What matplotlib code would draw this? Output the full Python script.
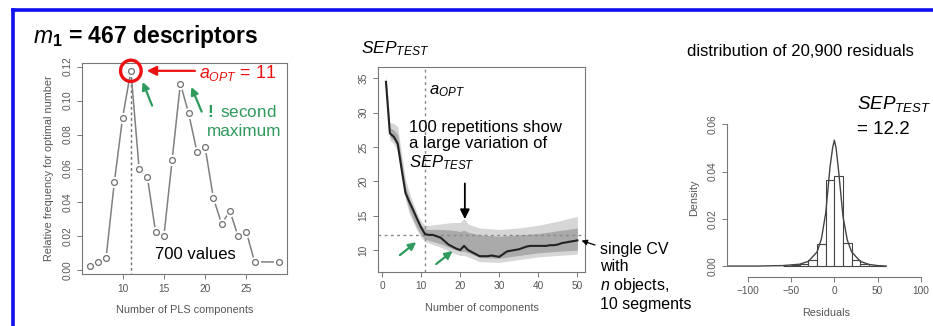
import numpy as np
import matplotlib
matplotlib.use("Agg")
import matplotlib.pyplot as plt
from matplotlib.patches import Ellipse

plt.rcParams['font.family'] = ['Liberation Sans', 'DejaVu Sans']
plt.rcParams['mathtext.fontset'] = 'custom'
plt.rcParams['mathtext.rm'] = 'Liberation Sans'
plt.rcParams['mathtext.it'] = 'Liberation Sans:italic'
plt.rcParams['mathtext.bf'] = 'Liberation Sans:bold'

# panel 1: relative frequency of optimal number of PLS components
n_comp = [6, 7, 8, 9, 10, 11, 12, 13, 14, 15, 16, 17, 18, 19, 20, 21, 22, 23, 24, 25, 26, 29]
rel_freq = [0.0025, 0.005, 0.0075, 0.052, 0.09, 0.1175, 0.06, 0.055, 0.0225, 0.02, 0.065,
            0.11, 0.0925, 0.07, 0.0725, 0.0425, 0.0275, 0.035, 0.02, 0.0225, 0.005, 0.005]
a_opt = 11

# panel 2: SEP_TEST vs number of components
comp = list(range(1, 51))
sep_single = [34.5, 27.0, 26.5, 25.5, 21.8, 18.3, 17.0, 15.8, 14.5, 13.3,
              12.3, 12.2, 12.2, 12.0, 11.8, 11.3, 10.8, 10.5, 10.2, 10.0,
              10.6, 10.0, 9.7, 9.4, 9.1, 9.1, 9.1, 9.2, 9.1, 9.0,
              9.4, 9.8, 9.9, 10.0, 10.1, 10.3, 10.5, 10.6, 10.6, 10.6,
              10.6, 10.6, 10.7, 10.7, 10.8, 11.0, 11.1, 11.2, 11.3, 11.4]
env_x = [1, 2, 3, 4, 5, 6, 7, 8, 9, 10, 11, 12, 15, 18, 20, 21, 22, 25, 30, 35, 40, 45, 50]
outer_hi = [35.6, 28.6, 28.4, 28.0, 24.0, 20.3, 18.3, 16.8, 15.3, 14.2, 13.6, 13.6, 13.8,
            14.0, 14.0, 14.6, 13.8, 13.2, 13.0, 13.2, 13.6, 14.2, 14.9]
outer_lo = [34.0, 26.0, 25.5, 24.3, 20.8, 17.3, 15.3, 14.0, 12.8, 11.8, 11.2, 11.0, 10.4,
            9.6, 9.2, 9.2, 9.0, 8.3, 8.2, 8.6, 9.0, 9.2, 9.4]
core_hi = [35.0, 27.8, 27.5, 26.8, 23.0, 19.3, 17.5, 16.0, 14.6, 13.6, 13.1, 13.0, 13.0,
           12.9, 12.7, 12.9, 12.6, 12.2, 12.0, 12.2, 12.4, 12.8, 13.2]
core_lo = [34.3, 26.5, 26.0, 25.0, 21.3, 17.8, 15.8, 14.4, 13.2, 12.2, 11.6, 11.4, 10.9,
           10.2, 9.8, 9.8, 9.6, 8.9, 8.8, 9.2, 9.6, 9.8, 10.0]
sep_test = 12.2

# panel 3: histogram of residuals with density curve
bin_edges = [-60, -50, -40, -30, -20, -10, 0, 10, 20, 30, 40, 50, 60]
bin_dens = [0.0001, 0.0003, 0.0008, 0.0025, 0.0093, 0.0364, 0.0381, 0.0099, 0.0025, 0.0008, 0.0002, 0.0001]
dens_x = [-124, -90, -60, -40, -30, -20, -15, -10, -5, -2, 0, 2, 5, 10, 15, 20, 30, 40, 50, 60]
dens_y = [0.0, 0.0, 0.0002, 0.0008, 0.002, 0.006, 0.0115, 0.0224, 0.042, 0.050, 0.0533,
          0.050, 0.040, 0.021, 0.011, 0.006, 0.002, 0.0007, 0.0002, 0.0]

gray_txt = '#555555'
box_col = '#777777'
green = '#2e9a5c'

fig = plt.figure(figsize=(9.33, 3.26), dpi=100)
W, H = 933.0, 326.0


def add_ax(l, r, t, b):
    return fig.add_axes([l / W, 1 - b / H, (r - l) / W, (b - t) / H])


def r_style(ax):
    for s in ax.spines.values():
        s.set_color(box_col)
        s.set_linewidth(0.8)
    ax.tick_params(colors=box_col, labelcolor=gray_txt, labelsize=7.3, length=3.5, width=0.7)
    for lab in ax.get_yticklabels():
        lab.set_rotation(90)
        lab.set_va('center')


# ---- panel 1
ax1 = add_ax(82, 287, 63, 274)
ax1.plot(n_comp, rel_freq, color='#808080', lw=1.1, zorder=2)
ax1.plot(n_comp, rel_freq, 'o', ms=7, mfc='white', mec='white', zorder=3)
ax1.plot(n_comp, rel_freq, 'o', ms=4.2, mfc='white', mec='#707070', mew=0.9, zorder=4)
ax1.plot([a_opt, a_opt], [-0.01, rel_freq[n_comp.index(a_opt)]], color='#707070', ls=(0, (2, 2)), lw=1, zorder=1)
ax1.set_xlim(5.08, 29.92)
ax1.set_ylim(-0.0021, 0.1221)
ax1.set_xticks([10, 15, 20, 25])
ax1.set_yticks([0.0, 0.02, 0.04, 0.06, 0.08, 0.10, 0.12])
ax1.set_yticklabels(['0.00', '0.02', '0.04', '0.06', '0.08', '0.10', '0.12'])
r_style(ax1)
ax1.set_xlabel('Number of PLS components', fontsize=7.8, color=gray_txt, labelpad=8)
ax1.set_ylabel('Relative frequency for optimal number', fontsize=7.8, color=gray_txt, labelpad=6)
ax1.add_patch(Ellipse((a_opt, rel_freq[n_comp.index(a_opt)]), 2.5, 0.0125, fill=False,
                      ec='#ee1111', lw=2.4, zorder=6, clip_on=False))
ax1.annotate('', xy=(12.6, 0.1175), xytext=(19.1, 0.1175),
             arrowprops=dict(arrowstyle='-|>', color='#ee1111', lw=1.6, mutation_scale=14))
ax1.text(19.3, 0.1165, r'$\mathit{a}_{\mathit{OPT}}$ = 11', color='#ee1111', fontsize=12.8, va='center')
ax1.annotate('', xy=(12.3, 0.1125), xytext=(13.7, 0.0955),
             arrowprops=dict(arrowstyle='-|>', color=green, lw=1.6, mutation_scale=11))
ax1.annotate('', xy=(18.2, 0.1095), xytext=(19.7, 0.092),
             arrowprops=dict(arrowstyle='-|>', color=green, lw=1.6, mutation_scale=11))
ax1.text(20.2, 0.0935, r'$\mathbf{!}$ second', color=green, fontsize=12.3, va='center')
ax1.text(20.2, 0.0815, 'maximum', color=green, fontsize=12.3, va='center')
ax1.text(13.9, 0.0095, '700 values', color='black', fontsize=12, va='center')

fig.text(33 / W, 1 - 36 / H, r'$\mathbf{\mathit{m}}_\mathbf{1}$ = 467 descriptors', fontsize=16.5,
         fontweight='bold', va='center', ha='left')

# ---- panel 2
ax2 = add_ax(378.3, 585, 66.7, 271.7)
ax2.fill_between(env_x, outer_lo, outer_hi, color='#d6d6d6', lw=0, zorder=1)
ax2.fill_between(env_x, core_lo, core_hi, color='#aaaaaa', lw=0, zorder=2)
ax2.plot(comp, sep_single, color='#222222', lw=1.5, zorder=4)
ax2.axvline(a_opt, color='#888888', ls=(0, (2, 2.5)), lw=1, zorder=3)
ax2.axhline(sep_test, color='#888888', ls=(0, (2, 2.5)), lw=1, zorder=3)
ax2.set_xlim(-0.96, 51.96)
ax2.set_ylim(6.84, 36.7)
ax2.set_xticks([0, 10, 20, 30, 40, 50])
ax2.set_yticks([10, 15, 20, 25, 30, 35])
r_style(ax2)
ax2.set_xlabel('Number of components', fontsize=7.8, color=gray_txt, labelpad=8)
ax2.text(-5.5, 39.3, r'$\mathit{SEP}_{\mathit{TEST}}$', fontsize=12.5, va='center', clip_on=False)
ax2.text(12.0, 33.2, r'$\mathit{a}_{\mathit{OPT}}$', fontsize=12, va='center')
ax2.text(6.9, 29.0, '100 repetitions show\na large variation of\n' + r'$\mathit{SEP}_{\mathit{TEST}}$',
         fontsize=12, va='top', linespacing=1.15)
ax2.annotate('', xy=(21.2, 14.1), xytext=(21.2, 20.1),
             arrowprops=dict(arrowstyle='-|>', color='black', lw=1.3, mutation_scale=14))
ax2.annotate('', xy=(9.3, 11.4), xytext=(4.0, 9.0),
             arrowprops=dict(arrowstyle='-|>', color=green, lw=1.6, mutation_scale=11))
ax2.annotate('', xy=(18.6, 10.1), xytext=(13.3, 7.7),
             arrowprops=dict(arrowstyle='-|>', color=green, lw=1.6, mutation_scale=11),
             annotation_clip=False)
ax2.annotate('', xy=(50.4, 11.5), xytext=(55.2, 10.6),
             arrowprops=dict(arrowstyle='-|>', color='black', lw=0.9, mutation_scale=8),
             annotation_clip=False)
fig.text(600 / W, 1 - 242 / H, 'single CV\nwith\n' + r'$\mathit{n}$' + ' objects,\n10 segments',
         fontsize=11.5, va='top', linespacing=1.15)

# ---- panel 3
ax3 = add_ax(727.3, 925, 119.6, 276.7)
ax3.bar(bin_edges[:-1], bin_dens, width=10, align='edge', color='white', edgecolor='#444444', lw=0.8)
ax3.plot(dens_x, dens_y, color='#444444', lw=1.0)
ax3.set_xlim(-124, 105)
ax3.set_ylim(-0.0045, 0.062)
ax3.spines['top'].set_visible(False)
ax3.spines['right'].set_visible(False)
ax3.spines['bottom'].set_bounds(-100, 100)
ax3.spines['left'].set_bounds(0, 0.06)
ax3.set_xticks([-100, -50, 0, 50, 100])
ax3.set_xticklabels(['\u2212100', '\u221250', '0', '50', '100'])
ax3.set_yticks([0.0, 0.02, 0.04, 0.06])
ax3.set_yticklabels(['0.00', '0.02', '0.04', '0.06'])
r_style(ax3)
ax3.set_xlabel('Residuals', fontsize=7.8, color=gray_txt, labelpad=8)
ax3.set_ylabel('Density', fontsize=7.8, color=gray_txt, labelpad=6)
fig.text(800 / W, 1 - 52 / H, 'distribution of 20,900 residuals', fontsize=12, ha='center', va='center')
fig.text(857 / W, 1 - 104 / H, r'$\mathit{SEP}_{\mathit{TEST}}$', fontsize=13.5, va='center')
fig.text(857 / W, 1 - 130 / H, '= 12.2', fontsize=13.5, va='center')

# blue frame
fig.add_artist(plt.Line2D([13 / W, 1.0], [1 - 9.5 / H, 1 - 9.5 / H], color='#1010ee', lw=2.6))
fig.add_artist(plt.Line2D([13 / W, 13 / W], [0.0, 1 - 9.5 / H], color='#1010ee', lw=2.6))

fig.savefig('out.png', dpi=100)
